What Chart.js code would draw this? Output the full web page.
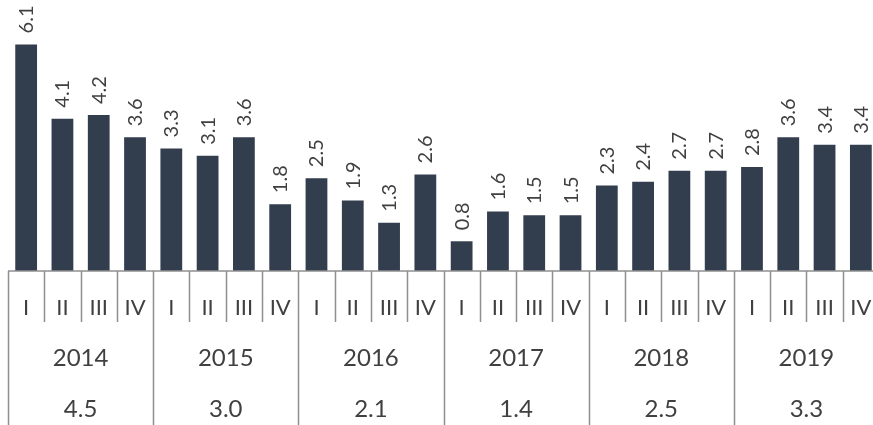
<!DOCTYPE html>
<html>
<head>
<meta charset="utf-8">
<script src="https://cdn.jsdelivr.net/npm/chart.js@4"></script>
<style>
html,body{margin:0;padding:0;background:#fff;overflow:hidden;}
#wrap{width:873px;height:425px;position:relative;overflow:hidden;}
canvas{display:block;}
</style>
</head>
<body>
<div id="wrap"><canvas id="c" width="879" height="425"></canvas></div>
<script>
const quarters = ["I","II","III","IV"];
const years = ["2014","2015","2016","2017","2018","2019"];
const annualValues = ["4.5","3.0","2.1","1.4","2.5","3.3"];
const quarterValues = [6.1,4.1,4.2,3.6, 3.3,3.1,3.6,1.8, 2.5,1.9,1.3,2.6, 0.8,1.6,1.5,1.5, 2.3,2.4,2.7,2.7, 2.8,3.6,3.4,3.4];

const categories = [];
years.forEach(y => quarters.forEach(q => categories.push(y + " " + q)));

const FONT = "Lato, 'Liberation Sans', sans-serif";
const TEXT = "#404040";
const LINE = "#8f8f8f";

const decorPlugin = {
  id: 'decor',
  afterDatasetsDraw(chart) {
    const ctx = chart.ctx;
    const xs = chart.scales.x;
    const ys = chart.scales.y;
    const area = chart.chartArea;
    const base = ys.getPixelForValue(0);
    const n = categories.length;
    const cw = (area.right - area.left) / n;
    const H = chart.height;

    // value labels
    ctx.save();
    ctx.fillStyle = TEXT;
    ctx.font = "20px " + FONT;
    ctx.textAlign = 'left';
    ctx.textBaseline = 'alphabetic';
    const meta = chart.getDatasetMeta(0);
    meta.data.forEach((bar, i) => {
      ctx.save();
      ctx.translate(bar.x, bar.y - 11);
      ctx.rotate(-Math.PI / 2);
      ctx.fillText(quarterValues[i].toFixed(1), 0, 7);
      ctx.restore();
    });
    ctx.restore();

    // axis lines
    ctx.save();
    ctx.strokeStyle = LINE;
    ctx.lineWidth = 1.5;
    ctx.beginPath();
    ctx.moveTo(area.left, base);
    ctx.lineTo(area.right, base);
    ctx.stroke();
    for (let i = 0; i <= n; i++) {
      const x = Math.round(area.left + i * cw) + 0.5;
      const isYear = (i % 4 === 0);
      ctx.beginPath();
      ctx.moveTo(x, base);
      ctx.lineTo(x, isYear ? H : base + 51);
      ctx.stroke();
    }
    ctx.restore();

    // category labels
    ctx.save();
    ctx.fillStyle = TEXT;
    ctx.textAlign = 'center';
    ctx.textBaseline = 'middle';
    ctx.font = "22px " + FONT;
    for (let i = 0; i < n; i++) {
      ctx.fillText(quarters[i % 4], xs.getPixelForValue(i), base + 37);
    }
    ctx.font = "24px " + FONT;
    years.forEach((y, j) => {
      const cx = area.left + (j * 4 + 2) * cw;
      ctx.fillText(y, cx, base + 87);
      ctx.fillText(annualValues[j], cx, base + 138);
    });
    ctx.restore();
  }
};

new Chart(document.getElementById('c'), {
  type: 'bar',
  data: {
    labels: categories,
    datasets: [{
      data: quarterValues,
      backgroundColor: '#323d4e',
      borderWidth: 0,
      categoryPercentage: 1.0,
      barPercentage: 0.6
    }]
  },
  options: {
    responsive: false,
    animation: false,
    devicePixelRatio: 1,
    layout: { padding: { left: 8, right: 0, top: 11, bottom: 154 } },
    plugins: { legend: { display: false }, tooltip: { enabled: false } },
    scales: {
      x: { display: false },
      y: { display: false, min: 0, max: 7 }
    }
  },
  plugins: [decorPlugin]
});
</script>
</body>
</html>
